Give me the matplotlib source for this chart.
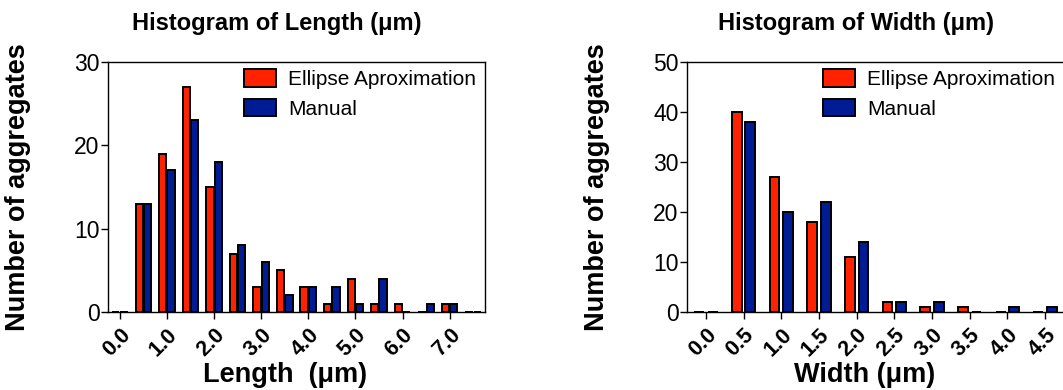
import numpy as np
import matplotlib.pyplot as plt

plt.rcParams['font.family'] = ['Liberation Sans', 'DejaVu Sans']

# ---- data ----
len_bins = [0.0, 0.5, 1.0, 1.5, 2.0, 2.5, 3.0, 3.5, 4.0, 4.5, 5.0, 5.5, 6.0, 6.5, 7.0, 7.5]
len_ellipse = [0, 13, 19, 27, 15, 7, 3, 5, 3, 1, 4, 1, 1, 0, 1, 0]
len_manual = [0, 13, 17, 23, 18, 8, 6, 2, 3, 3, 1, 4, 0, 1, 1, 0]
len_ticks = [0.0, 1.0, 2.0, 3.0, 4.0, 5.0, 6.0, 7.0]
len_ticklabels = ["0.0", "1.0", "2.0", "3.0", "4.0", "5.0", "6.0", "7.0"]

wid_bins = [0.0, 0.5, 1.0, 1.5, 2.0, 2.5, 3.0, 3.5, 4.0, 4.5]
wid_ellipse = [0, 40, 27, 18, 11, 2, 1, 1, 0, 0]
wid_manual = [0, 38, 20, 22, 14, 2, 2, 0, 1, 1]
wid_ticks = wid_bins
wid_ticklabels = ["0.0", "0.5", "1.0", "1.5", "2.0", "2.5", "3.0", "3.5", "4.0", "4.5"]

RED = "#FF2200"
BLUE = "#001C94"

fig = plt.figure(figsize=(10.63, 3.9), dpi=100)
ax1 = fig.add_axes([108 / 1063, 78 / 390, 377 / 1063, 250 / 390])
ax2 = fig.add_axes([687 / 1063, 78 / 390, 377 / 1063, 250 / 390])


def draw(ax, bins, ell, man, ymax, ticks, labels, width, off, title, xlabel):
    x = np.array(bins)
    ax.bar(x - off, ell, width=width, color=RED, edgecolor="black",
           linewidth=1.4, label="Ellipse Aproximation")
    ax.bar(x + off, man, width=width, color=BLUE, edgecolor="black",
           linewidth=1.4, label="Manual")
    ax.set_xlim(-0.25, bins[-1] + 0.25)
    ax.set_ylim(0, ymax)
    ax.set_yticks(np.arange(0, ymax + 1, 10))
    ax.set_xticks(ticks)
    ax.set_xticklabels(labels, rotation=45, ha="right", rotation_mode="anchor",
                       fontsize=15.5, fontweight="bold")
    ax.tick_params(axis="y", labelsize=16.5, length=5, width=1, pad=1)
    ax.tick_params(axis="x", length=5, width=1, pad=4)
    for s in ax.spines.values():
        s.set_linewidth(1)
    ax.set_ylabel("Number of aggregates", fontsize=19.5, fontweight="bold")
    ax.yaxis.set_label_coords(-0.205, 0.5)
    ax.set_xlabel(xlabel, fontsize=19.5, fontweight="bold")
    ax.xaxis.set_label_coords(0.47, -0.2)
    ax.set_title(title, fontsize=17, fontweight="bold", x=0.447, pad=23)
    ax.legend(loc="upper left", bbox_to_anchor=(0.362, 0.97), frameon=False,
              fontsize=15, handlelength=1.5, handleheight=0.9, handletextpad=0.6,
              labelspacing=0.45, borderpad=0, borderaxespad=0)


draw(ax1, len_bins, len_ellipse, len_manual, 30, len_ticks, len_ticklabels,
     0.155, 0.088, "Histogram of Length (\u03bcm)", "Length  (\u03bcm)")
draw(ax2, wid_bins, wid_ellipse, wid_manual, 50, wid_ticks, wid_ticklabels,
     0.13, 0.09, "Histogram of Width (\u03bcm)", "Width (\u03bcm)")

fig.savefig("out.png", dpi=100)
